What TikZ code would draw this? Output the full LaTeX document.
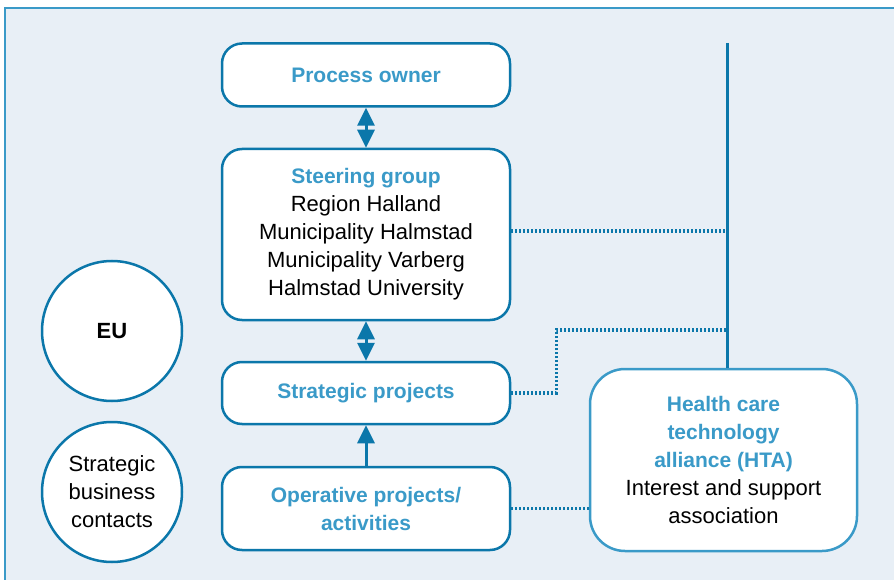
\documentclass[tikz,border=0pt]{standalone}
\usepackage{fontspec}
\setmainfont{Liberation Sans}
\usepackage{xcolor}
\usetikzlibrary{arrows.meta}
\usetikzlibrary{positioning, calc}

\definecolor{panelbg}{HTML}{E8EFF6}
\definecolor{linkblue}{HTML}{0B77AA}
\definecolor{titleblue}{HTML}{3A9AC8}

\tikzset{
    orgbox/.style={draw=linkblue, line width=2.5pt, fill=white, rounded corners=20pt,
        minimum width=288pt, align=center, inner sep=0pt,
        font=\fontsize{22}{28}\selectfont},
    partner/.style={circle, draw=linkblue, line width=2.5pt, fill=white,
        minimum size=140pt, align=center, inner sep=0pt,
        font=\fontsize{22}{28}\selectfont},
    dotline/.style={linkblue, line width=3.2pt, dash pattern=on 2.2pt off 1.8pt},
    flow/.style={linkblue, line width=3pt, -{Triangle[width=17pt,length=18pt]}},
    twoway/.style={flow, {Triangle[width=17pt,length=18pt]}-{Triangle[width=17pt,length=18pt]}}
}

\newcommand{\hl}[1]{\textcolor{titleblue}{\fontsize{21}{28}\selectfont\bfseries #1}}

\begin{document}
\begin{tikzpicture}[x=1pt, y=-1pt]
    \useasboundingbox (0,0) rectangle (894,580);

    % panel
    \fill[panelbg] (5,8) rectangle (894,580);
    \draw[titleblue, line width=1.5pt] (5,580) -- (5,8) -- (894,8);

    % main chain
    \node[orgbox, minimum height=63pt] (owner) at (366,75) {\hl{Process owner}};
    \node[orgbox, minimum height=171pt] (steering) at (366,234.5)
        {\hl{Steering group}\\Region Halland\\Municipality Halmstad\\Municipality Varberg\\Halmstad University};
    \node[orgbox, minimum height=62pt] (strategic) at (366,393) {\hl{Strategic projects}};
    \node[orgbox, minimum height=83pt] (operative) at (366,508.5) {\hl{Operative projects/}\\\hl{activities}};

    % partners
    \node[partner] (eu) at (112,331) {\bfseries EU};
    \node[partner] (contacts) at (112,492) {Strategic\\business\\contacts};

    \node[orgbox, draw=titleblue, minimum width=267pt, minimum height=182pt, rounded corners=35pt] (hta) at (723.5,460)
        {\hl{Health care}\\\hl{technology}\\\hl{alliance (HTA)}\\Interest and support\\association};

    % HTA spine
    \coordinate (spinetop) at (727,43);
    \coordinate (join1) at (727,231);
    \coordinate (join2) at (727,330);
    \draw[linkblue, line width=3pt] (spinetop) -- (spinetop |- hta.north);

    % dotted links
    \draw[dotline] (steering.east |- join1) -- (join1);
    \draw[dotline] (strategic.east) -- ++(45,0) |- (join2);
    \draw[dotline] (operative.east) -- (operative.east -| hta.west);

    % arrows
    \draw[twoway] (owner.south) -- (steering.north);
    \draw[twoway] (steering.south) -- (strategic.north);
    \draw[flow] (operative.north) -- (strategic.south);

\end{tikzpicture}
\end{document}
